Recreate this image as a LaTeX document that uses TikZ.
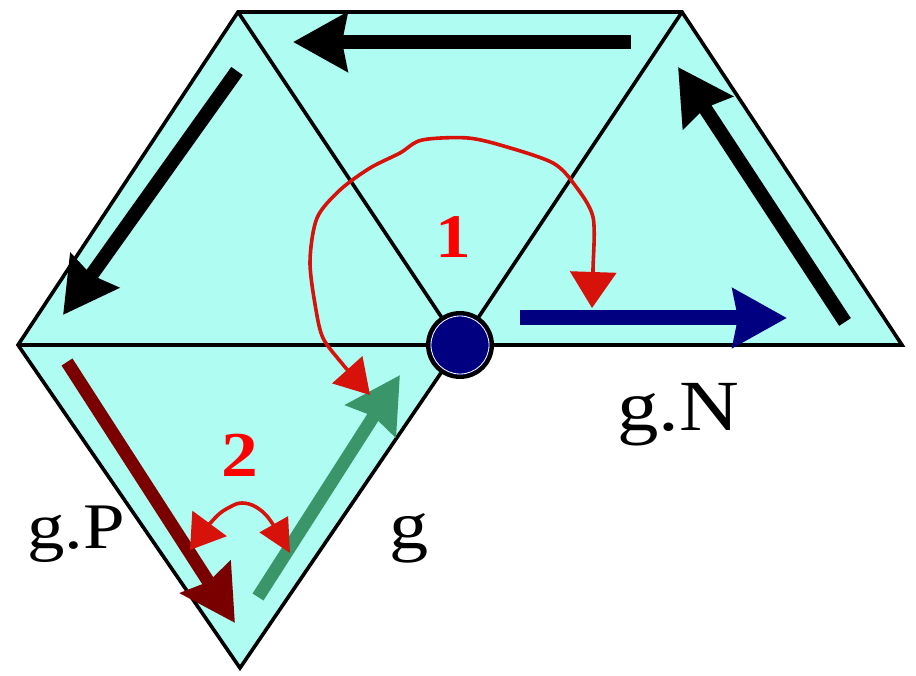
\documentclass[tikz,border=0pt]{standalone}
\usepackage{fontspec}
\usepackage{graphicx}
\setmainfont{Liberation Serif}
\usetikzlibrary{arrows.meta}
\definecolor{cyanfill}{RGB}{174,252,242}
\definecolor{navyblue}{RGB}{0,0,128}
\definecolor{darkredarr}{RGB}{122,0,0}
\definecolor{greenarr}{RGB}{58,150,105}
\definecolor{curvered}{RGB}{214,18,10}
\begin{document}
\begin{tikzpicture}[x=1pt,y=-1pt,
  edge/.style={line width=3.6pt, line join=miter},
  fatarrow/.style={line width=14pt, -{Stealth[length=54pt,width=58pt,inset=5pt]}},
  redcurve/.style={curvered, line width=3.6pt},
  lbl/.style={inner sep=0pt, font=\fontsize{#1}{#1}\selectfont},
  num/.style={inner sep=0pt, text=red, font=\fontsize{#1}{#1}\selectfont\bfseries}]
\useasboundingbox (0,0) rectangle (916,676);
% vertices
\coordinate (A) at (238,12);
\coordinate (B) at (682,12);
\coordinate (L) at (18,345);
\coordinate (C) at (460,345);
\coordinate (R) at (902,345);
\coordinate (D) at (240,668);
% faces
\fill[cyanfill] (L) -- (A) -- (B) -- (R) -- (C) -- (D) -- cycle;
\draw[edge] (L) -- (A) -- (B) -- (R) -- (C) -- (D) -- cycle;
\draw[edge] (L) -- (C);
\draw[edge] (A) -- (C);
\draw[edge] (B) -- (C);
% black arrows
\coordinate (t1s) at (631,42);  \coordinate (t1e) at (293,42);
\coordinate (t2s) at (237,71);  \coordinate (t2e) at (63,315);
\coordinate (t3s) at (845,322); \coordinate (t3e) at (678,67);
\draw[fatarrow] (t1s) -- (t1e);
\draw[fatarrow] (t2s) -- (t2e);
\draw[fatarrow] (t3s) -- (t3e);
% coloured arrows
\coordinate (bs) at (520,318); \coordinate (be) at (787,318);
\coordinate (rs) at (67,362);  \coordinate (re) at (235,623);
\coordinate (gs) at (258,597); \coordinate (ge) at (400,375);
\draw[fatarrow, navyblue, line width=15pt] (bs) -- (be);
\draw[fatarrow, darkredarr, line width=13pt] (rs) -- (re);
\draw[fatarrow, greenarr, line width=13pt] (gs) -- (ge);
% vertex
\node[circle, fill=navyblue, draw=black, line width=4pt, minimum size=64pt, inner sep=0pt] (V) at (C) {};
\draw[white, line width=0.8pt] (V.center) circle (29pt);
% red curve 1
\coordinate (c1a) at (370,395);
\coordinate (c1b) at (592,308);
\draw[redcurve, {Triangle[length=34pt,width=40pt]}-{Triangle[length=36pt,width=46pt]}]
  plot[smooth, tension=0.5] coordinates {(c1a) (340,361) (323,338) (316,310) (310,262) (317,218) (340,190) (370,168) (400,153) (422,140) (468,138) (507,147) (553,163) (574,184) (593,217) (593,270) (c1b)};
% red curve 2
\coordinate (c2a) at (190,550);
\coordinate (c2b) at (290,553);
\draw[redcurve, {Triangle[length=33pt,width=42pt]}-{Triangle[length=33pt,width=32pt]}]
  plot[smooth, tension=0.6] coordinates {(c2a) (215,518) (230,507) (242,503) (256,507) (270,520) (c2b)};
% labels
\node[num=62] (n1) at (453,237) {\scalebox{1.15}[1]{1}};
\node[num=64] (n2) at (240,455) {\scalebox{1.15}[1]{2}};
\node[lbl=65, anchor=base west] (gP) at (27,548) {\scalebox{1.15}[1]{g.P}};
\node[lbl=68, anchor=base west] (g) at (389,548) {\scalebox{1.15}[1]{g}};
\node[lbl=72, anchor=base west] (gN) at (617,430) {\scalebox{1.15}[1]{g.N}};
\end{tikzpicture}
\end{document}
